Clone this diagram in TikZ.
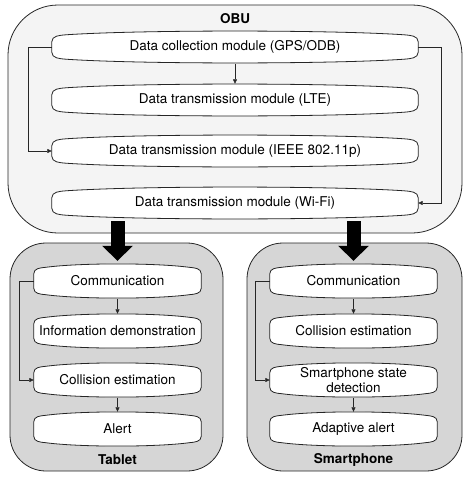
\documentclass[tikz,border=0pt]{standalone}
\usepackage{fontspec}
\setmainfont{TeX Gyre Heros}
\usetikzlibrary{arrows.meta}
\definecolor{obufill}{HTML}{F4F4F4}
\definecolor{devfill}{HTML}{D6D6D6}
\pgfdeclarelayer{bg}
\pgfdeclarelayer{mid}
\pgfsetlayers{bg,mid,main}
% #1 node name, #2 control offset, #3 corner x, #4 corner drop
\newcommand\modshape[4]{%
  \draw[modline] ([yshift=-2.4*#4]#1.north west) to[out=90,in=185]
    ([xshift=#3,yshift=-#4]#1.north west) .. controls ([xshift=-#2]#1.north) and ([xshift=#2]#1.north) ..
    ([xshift=-#3,yshift=-#4]#1.north east) to[out=-5,in=90]
    ([yshift=-2.4*#4]#1.north east) -- ([yshift=2.4*#4]#1.south east) to[out=-90,in=5]
    ([xshift=-#3,yshift=#4]#1.south east) .. controls ([xshift=#2]#1.south) and ([xshift=-#2]#1.south) ..
    ([xshift=#3,yshift=#4]#1.south west) to[out=175,in=-90]
    ([yshift=2.4*#4]#1.south west) -- cycle;}
\begin{document}
\begin{tikzpicture}[x=1pt,y=-1pt,
  outerbox/.style={draw=black!85,line width=0.8pt},
  modline/.style={draw=black!85,fill=white,line width=0.8pt},
  mod/.style={draw=none,inner sep=1pt,font=\fontsize{13.5}{14.5}\selectfont,align=center},
  obumod/.style={mod,minimum width=366pt,minimum height=34pt},
  devmod/.style={mod,minimum width=167pt,minimum height=36pt},
  title/.style={font=\fontsize{13.5}{15}\selectfont\bfseries},
  arr/.style={draw=black!85,line width=0.6pt,-{Triangle[length=4.5pt,width=4pt]}},
  bigarrow/.style={line width=14pt,-{Triangle[length=15pt,width=30pt]}}
]
\useasboundingbox (0,0) rectangle (474,479);
% outer containers
\begin{pgfonlayer}{bg}
\draw[outerbox,fill=obufill,rounded corners=50pt] (8,5) rectangle (462,233);
\draw[outerbox,fill=devfill,rounded corners=36pt] (10,243) rectangle (223,471);
\draw[outerbox,fill=devfill,rounded corners=36pt] (247,243) rectangle (462,471);
\end{pgfonlayer}
% titles
\node[title] (obut) at (235,19) {OBU};
\node[title] (tabt) at (117.5,460) {Tablet};
\node[title] (smt) at (353.5,460) {Smartphone};
% OBU modules
\node[obumod] (m1) at (235,47) {Data collection module (GPS/ODB)};
\node[obumod] (m2) at (235,100) {Data transmission module (LTE)};
\node[obumod] (m3) at (235,151) {Data transmission module (IEEE 802.11p)};
\node[obumod] (m4) at (235,203) {Data transmission module (Wi-Fi)};
% tablet modules
\node[devmod] (t1) at (117.5,281) {Communication};
\node[devmod] (t2) at (117.5,331) {Information demonstration};
\node[devmod] (t3) at (117.5,380) {Collision estimation};
\node[devmod] (t4) at (117.5,429) {Alert};
% smartphone modules
\node[devmod] (s1) at (353.5,281) {Communication};
\node[devmod] (s2) at (353.5,331) {Collision estimation};
\node[devmod] (s3) at (353.5,380) {Smartphone state\\detection};
\node[devmod] (s4) at (353.5,429) {Adaptive alert};
\begin{pgfonlayer}{mid}
\modshape{m1}{95pt}{14pt}{5pt}
\modshape{m2}{95pt}{14pt}{5pt}
\modshape{m3}{95pt}{14pt}{5pt}
\modshape{m4}{95pt}{14pt}{5pt}
\modshape{t1}{38pt}{12pt}{4.5pt}
\modshape{t2}{38pt}{12pt}{4.5pt}
\modshape{t3}{38pt}{12pt}{4.5pt}
\modshape{t4}{38pt}{12pt}{4.5pt}
\modshape{s1}{38pt}{12pt}{4.5pt}
\modshape{s2}{38pt}{12pt}{4.5pt}
\modshape{s3}{38pt}{12pt}{4.5pt}
\modshape{s4}{38pt}{12pt}{4.5pt}
\end{pgfonlayer}
% big arrows
\draw[bigarrow] ([yshift=-1pt]m4.south -| t1.north) -- ([yshift=2pt]t1.north);
\draw[bigarrow] ([yshift=-1pt]m4.south -| s1.north) -- ([yshift=2pt]s1.north);
% OBU connectors
\draw[arr] (m1) -- ([yshift=-1pt]m2.north);
\draw[arr] (m1.west) -- ++(-24,0) |- (m3.west);
\draw[arr] (m1.east) -- ++(23,0) |- (m4.east);
% device connectors
\draw[arr] (t1) -- ([yshift=-1pt]t2.north);
\draw[arr] (t3) -- ([yshift=-1pt]t4.north);
\draw[arr] (t1.west) -- ++(-15,0) |- (t3.west);
\draw[arr] (s1) -- ([yshift=-1pt]s2.north);
\draw[arr] (s3) -- ([yshift=-1pt]s4.north);
\draw[arr] (s1.west) -- ++(-15,0) |- (s3.west);
\end{tikzpicture}
\end{document}
